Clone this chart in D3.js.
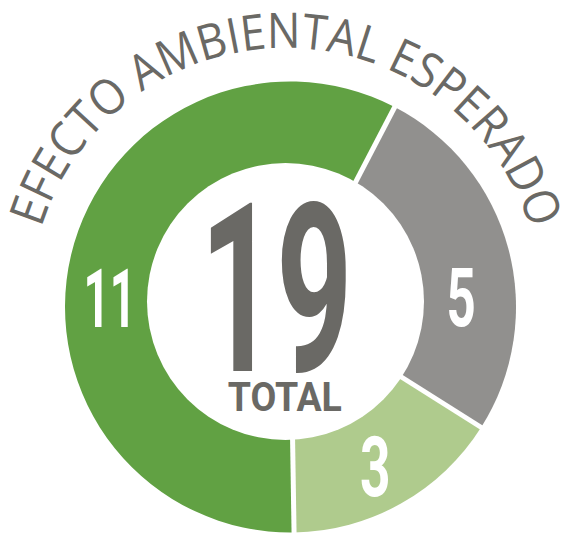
<!DOCTYPE html>
<html>
<head>
<meta charset="utf-8">
<script src="https://cdn.jsdelivr.net/npm/d3@7"></script>
<style>
  html, body { margin: 0; padding: 0; background: #ffffff; }
  svg { display: block; }
</style>
</head>
<body>
<div id="chart"></div>
<script>
// ---------- data ----------
const categories = ["Grupo 1", "Grupo 2", "Grupo 3"];
const values = [11, 5, 3];
const colors = ["#61a143", "#91908e", "#afcb8d"];
const titleText = "EFECTO AMBIENTAL ESPERADO";
const totalLabel = "TOTAL";

// ---------- layout ----------
const W = 562, H = 534;
const cx = 290.5, cy = 307, R = 225.5;          // outer ring
const holeCx = 285.5, holeCy = 301.5, holeR = 138.5; // inner white disc
const textCx = 285.6, textCy = 304, textR = 256;   // title baseline circle
const startDeg = -180.9;
const labelPolar = [ {a: -87.0, r: 183.2, w: 41, h: 59},
                     {a: 86.7, r: 171.3, w: 25, h: 59},
                     {a: 152.0, r: 180, w: 26.6, h: 61.7} ];
const darkGray = "#6a6965";
const numFont = "Roboto, 'Liberation Sans', sans-serif";

const svg = d3.select("#chart").append("svg").attr("width", W).attr("height", H);

const canvas = document.createElement("canvas");
const ctx = canvas.getContext("2d");
function ink(str, weight, family) {
  ctx.font = `${weight} 100px ${family}`;
  const m = ctx.measureText(str);
  return {L: m.actualBoundingBoxLeft, R: m.actualBoundingBoxRight,
          A: m.actualBoundingBoxAscent, D: m.actualBoundingBoxDescent};
}
// fit a text so its ink fills the box [x0,x1]x[y0,y1]
function fitText(g, str, x0, x1, y0, y1, weight, family, fill) {
  const m = ink(str, weight, family);
  const s = (y1 - y0) / (m.A + m.D);
  const size = 100 * s;
  const inkW = (m.L + m.R) * s;
  const sx = (x1 - x0) / inkW;
  const bx = x0 + m.L * s * sx;
  const by = y1 - m.D * s;
  g.append("text")
    .attr("transform", `translate(${bx},${by}) scale(${sx},1)`)
    .attr("font-family", family)
    .attr("font-weight", weight)
    .attr("font-size", size)
    .attr("fill", fill)
    .text(str);
}

// ---------- donut ----------
const pie = d3.pie().sort(null)
  .startAngle(startDeg * Math.PI / 180)
  .endAngle(startDeg * Math.PI / 180 + 2 * Math.PI);
const arcs = pie(values);
const arc = d3.arc().innerRadius(0).outerRadius(R);

const ring = svg.append("g").attr("transform", `translate(${cx},${cy})`);
ring.selectAll("path.slice").data(arcs).join("path")
  .attr("class", "slice")
  .attr("d", arc)
  .attr("fill", (d, i) => colors[i]);

// white separators
ring.selectAll("line.sep").data(arcs).join("line")
  .attr("class", "sep")
  .attr("x1", 0).attr("y1", 0)
  .attr("x2", d => Math.sin(d.startAngle) * (R + 4))
  .attr("y2", d => -Math.cos(d.startAngle) * (R + 4))
  .attr("stroke", "#ffffff")
  .attr("stroke-width", 5);

// inner hole
svg.append("circle")
  .attr("cx", holeCx).attr("cy", holeCy).attr("r", holeR)
  .attr("fill", "#ffffff");

// slice value labels
const lab = svg.append("g");
arcs.forEach((d, i) => {
  const p = labelPolar[i];
  const a = p.a * Math.PI / 180;
  const px = cx + Math.sin(a) * p.r, py = cy - Math.cos(a) * p.r;
  fitText(lab, String(d.data), px - p.w / 2, px + p.w / 2, py - p.h / 2, py + p.h / 2,
          700, numFont, "#ffffff");
});

// center total
const total = d3.sum(values);
fitText(svg, String(total), 210.7, 346.7, 198.5, 373, 700, numFont, darkGray);
fitText(svg, totalLabel, 228.5, 341.5, 382, 411, 700, numFont, darkGray);

// ---------- curved title ----------
const tFam = "'Open Sans', 'Noto Sans', sans-serif";
const tSize = 49;
ctx.font = `400 ${tSize}px ${tFam}`;
const chars = titleText.split("");
const prefix = chars.map((c, i) => ctx.measureText(titleText.slice(0, i)).width);
const full = ctx.measureText(titleText).width;
const cw = chars.map((c, i) => (i < chars.length - 1 ? prefix[i + 1] : full) - prefix[i]);
const firstC = cw[0] / 2, lastC = full - cw[cw.length - 1] / 2;
const a0 = -69.9, a1 = 69.2;
const k = ((a1 - a0) * Math.PI / 180 * textR) / (lastC - firstC);
const tg = svg.append("g").attr("transform", `translate(${textCx},${textCy})`);
chars.forEach((c, i) => {
  if (c === " ") return;
  const mid = prefix[i] + cw[i] / 2;
  const ang = a0 + (mid - firstC) / (lastC - firstC) * (a1 - a0);
  tg.append("text")
    .attr("transform", `rotate(${ang}) translate(0,${-textR}) scale(${k},1)`)
    .attr("text-anchor", "middle")
    .attr("font-family", tFam)
    .attr("font-size", tSize)
    .attr("fill", darkGray)
    .text(c);
});
</script>
</body>
</html>
